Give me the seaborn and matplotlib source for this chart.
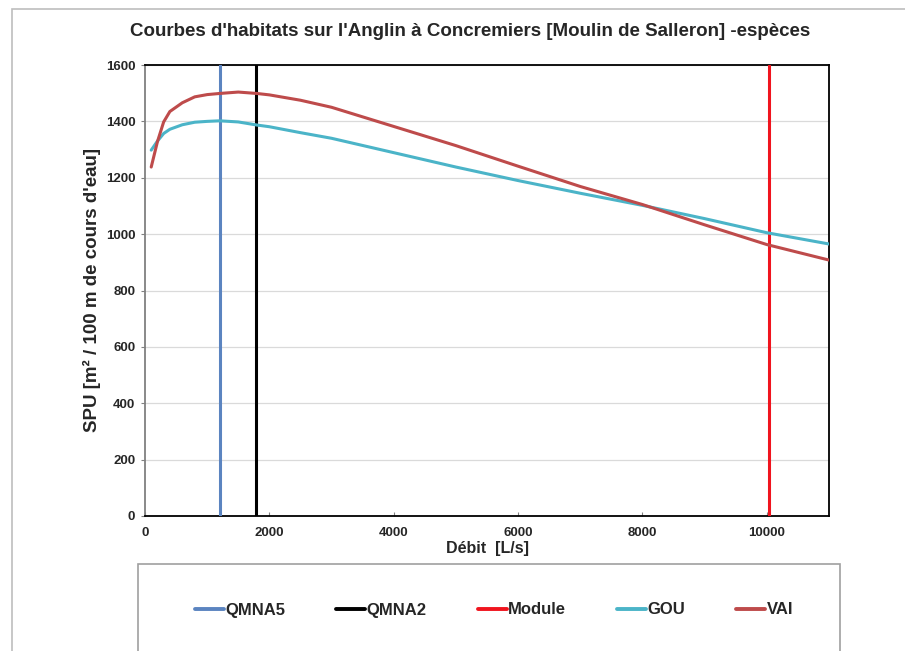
import numpy as np
import pandas as pd
import matplotlib
matplotlib.use("Agg")
import matplotlib.pyplot as plt
import seaborn as sns
from matplotlib.patches import Rectangle
from matplotlib.lines import Line2D

# ---- data ----
debit = [100, 200, 300, 400, 600, 800, 1000, 1200, 1500, 1800, 2000, 2500,
         3000, 4000, 5000, 6000, 7000, 8000, 9000, 10000, 11000]
gou = [1298, 1330, 1357, 1372, 1388, 1397, 1400, 1402, 1398, 1387, 1381, 1360,
       1340, 1289, 1238, 1190, 1145, 1102, 1055, 1005, 965]
vai = [1238, 1328, 1398, 1435, 1466, 1487, 1495, 1499, 1504, 1499, 1494, 1475,
       1450, 1382, 1314, 1241, 1169, 1105, 1033, 963, 908]
ref_names = ["QMNA5", "QMNA2", "Module"]
ref_values = [1210, 1780, 10040]
ref_colors = ["#5B84C0", "#000000", "#F0141E"]
species_names = ["GOU", "VAI"]
species_colors = ["#4BB4C8", "#BE4B4B"]
title = "Courbes d'habitats sur l'Anglin à Concremiers [Moulin de Salleron] -espèces"
xlabel = "Débit  [L/s]"
ylabel = "SPU [m² / 100 m de cours d'eau]"

sns.set_theme(style="white")
plt.rcParams['font.family'] = ['Liberation Sans', 'DejaVu Sans']

W, H = 905, 651
fig = plt.figure(figsize=(W / 100, H / 100), dpi=100)

# outer chart border
fig.patches.append(Rectangle((12 / W, -0.1), 1.2, (H - 9) / H + 0.1,
                             transform=fig.transFigure, fill=False,
                             edgecolor="#BDBDBD", linewidth=1.2, zorder=0))

ax = fig.add_axes([145 / W, (H - 516) / H, 684 / W, 451 / H])

df = pd.DataFrame({
    "Débit": debit * 2,
    "SPU": gou + vai,
    "Espèce": ["GOU"] * len(debit) + ["VAI"] * len(debit),
})

for name, val, col in zip(ref_names, ref_values, ref_colors):
    ax.axvline(val, color=col, linewidth=2.2, zorder=3)

sns.lineplot(data=df, x="Débit", y="SPU", hue="Espèce",
             palette=dict(zip(species_names, species_colors)),
             linewidth=2.2, ax=ax, legend=False, zorder=4)

ax.set_xlim(0, 11000)
ax.set_ylim(0, 1600)
ax.set_xticks(range(0, 11000, 2000))
ax.set_yticks(range(0, 1601, 200))
ax.yaxis.grid(True, color="#DADADA", linewidth=0.9)
ax.xaxis.grid(False)
ax.set_axisbelow(True)
for s in ["top", "right", "bottom"]:
    ax.spines[s].set_color("black")
    ax.spines[s].set_linewidth(1.3)
ax.spines["left"].set_color("#808080")
ax.spines["left"].set_linewidth(1.3)
ax.tick_params(axis="both", labelsize=9.5, length=3, width=0.8,
               color="#808080", pad=4)
ax.tick_params(axis="x", bottom=True, direction="in", pad=8)
ax.tick_params(axis="y", left=True, direction="out")
for lab in ax.get_xticklabels() + ax.get_yticklabels():
    lab.set_fontweight("bold")

ax.set_xlabel(xlabel, fontsize=11.5, fontweight="bold", labelpad=1)
ax.set_ylabel(ylabel, fontsize=13.5, fontweight="bold", labelpad=3)
fig.text(470 / W, 1 - 31 / H, title, ha="center",
         va="center", fontsize=13.5, fontweight="bold")

# legend box
fig.patches.append(Rectangle((138 / W, -0.1), (840 - 138) / W, (H - 564) / H + 0.1,
                             transform=fig.transFigure, fill=False,
                             edgecolor="#A0A0A0", linewidth=1.2, zorder=1))
handles = [Line2D([], [], color=c, linewidth=2.8) for c in ref_colors + species_colors]
labels = ref_names + species_names
fig.legend(handles, labels, loc="center", bbox_to_anchor=(494 / W, 1 - 610 / H),
           ncol=5, frameon=False, handlelength=1.75, handletextpad=0.08,
           columnspacing=3.05, prop={"weight": "bold", "size": 12})

fig.savefig("out.png", dpi=100)
